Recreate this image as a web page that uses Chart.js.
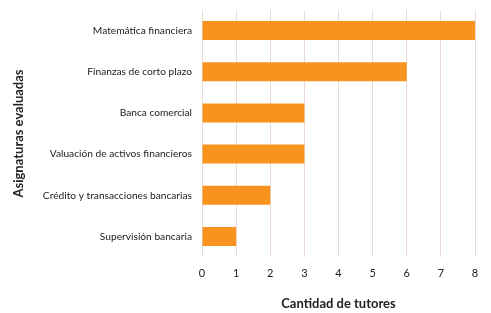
<!DOCTYPE html>
<html>
<head>
<meta charset="utf-8">
<script src="https://cdn.jsdelivr.net/npm/chart.js@4"></script>
<style>
  html, body { margin: 0; padding: 0; background: #fff; }
  #wrap { width: 491px; height: 313px; }
</style>
</head>
<body>
<div id="wrap"><canvas id="tutoresChart"></canvas></div>
<script>
// Data
const asignaturas = [
    'Matemática financiera',
    'Finanzas de corto plazo',
    'Banca comercial',
    'Valuación de activos financieros',
    'Crédito y transacciones bancarias',
    'Supervisión bancaria'
];
const tutores = [8, 6, 3, 3, 2, 1];
const xTicks = [0, 1, 2, 3, 4, 5, 6, 7, 8];

Chart.defaults.font.family = 'Lato, "Open Sans", sans-serif';
Chart.defaults.color = '#222';

const ctx = document.getElementById('tutoresChart').getContext('2d');
const tutoresChart = new Chart(ctx, {
    type: 'bar',
    data: {
        labels: asignaturas,
        datasets: [{
            data: tutores,
            backgroundColor: '#f7931e',
            borderWidth: 0,
            categoryPercentage: 1,
            barPercentage: 0.46
        }]
    },
    options: {
        indexAxis: 'y',
        responsive: true,
        maintainAspectRatio: false,
        animation: false,
        layout: { padding: { left: 7, right: 16, top: 10, bottom: 0 } },
        plugins: {
            legend: { display: false },
            tooltip: { enabled: false }
        },
        scales: {
            x: {
                min: 0,
                max: 8,
                afterBuildTicks: function(scale) {
                    scale.ticks = xTicks.map(v => ({ value: v }));
                },
                afterFit: function(scale) { scale.height = 56; },
                grid: { color: '#ecd8d4', drawTicks: false },
                border: { display: false },
                ticks: { padding: 10, font: { size: 11 } },
                title: {
                    display: true,
                    text: 'Cantidad de tutores',
                    font: { size: 13, weight: 'bold' },
                    padding: { top: 4, bottom: 1 }
                }
            },
            y: {
                afterFit: function(scale) {
                    scale.width = 195;
                    scale.paddingTop = 0;
                    scale.paddingBottom = 0;
                },
                grid: { display: false, drawTicks: false },
                border: { display: false },
                ticks: { padding: 10, font: { size: 10.2 } },
                title: {
                    display: true,
                    text: 'Asignaturas evaluadas',
                    font: { size: 13, weight: 'bold' },
                    padding: { top: 4, bottom: 4 }
                }
            }
        }
    }
});
</script>
</body>
</html>
